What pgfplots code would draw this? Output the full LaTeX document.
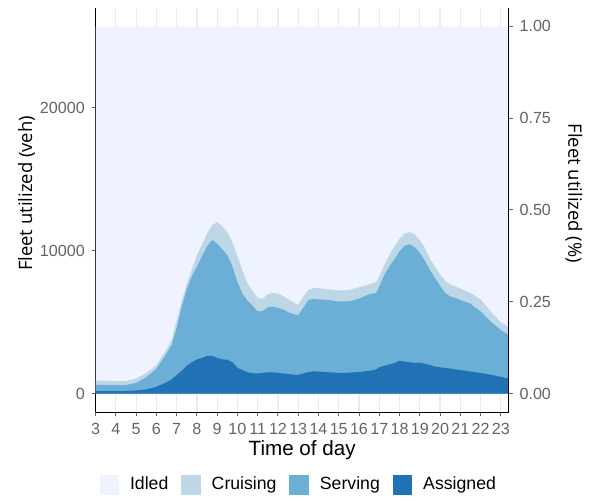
\documentclass[border=0pt]{standalone}
\usepackage{fontspec}
\setmainfont{Liberation Sans}
\newfontfamily\osans{Open Sans}
\usepackage{pgfplots}
\usepackage{pgfplotstable}
\pgfplotsset{compat=1.18}

\definecolor{idled}{HTML}{EFF3FF}
\definecolor{cruis}{HTML}{BDD7E7}
\definecolor{serv}{HTML}{6BAED6}
\definecolor{assig}{HTML}{2171B5}
\definecolor{tickgray}{HTML}{636363}
\definecolor{gridgray}{HTML}{EBEBEB}

% cumulative tops: A = assigned, S = +serving, C = +cruising, I = fleet (idled top)
\pgfplotstableread{
h     A     S      C      I
3.00  180   620    920    25700
3.50  180   610    900    25700
4.00  180   600    880    25700
4.50  190   610    890    25700
5.00  230   760    1050   25700
5.50  300   1150   1450   25700
6.00  480   1750   2000   25700
6.50  800   2800   3100   25700
6.75  1000  3400   3750   25700
7.00  1300  4600   5100   25700
7.25  1600  6100   6500   25700
7.50  1950  7300   7700   25700
7.75  2200  8200   8700   25700
8.00  2400  8900   9700   25700
8.25  2500  9600   10400  25700
8.50  2650  10300  11200  25700
8.75  2650  10750  11800  25700
9.00  2500  10500  12000  25700
9.25  2400  10100  11700  25700
9.50  2380  9700   11300  25700
9.75  2200  8900   10600  25700
10.00 1800  7800   9600   25700
10.25 1650  7000   8600   25700
10.50 1500  6500   7700   25700
10.75 1430  6150   7200   25700
11.00 1420  5750   6700   25700
11.25 1450  5800   6650   25700
11.50 1500  6050   6950   25700
11.75 1500  6100   7050   25700
12.00 1450  6000   7000   25700
12.25 1420  5900   6850   25700
12.50 1380  5700   6600   25700
12.75 1330  5580   6400   25700
13.00 1320  5490   6200   25700
13.25 1420  6000   6800   25700
13.50 1520  6550   7250   25700
13.75 1560  6620   7380   25700
14.00 1550  6600   7380   25700
14.50 1500  6550   7300   25700
15.00 1450  6450   7220   25700
15.50 1470  6450   7250   25700
16.00 1520  6650   7450   25700
16.50 1600  6950   7650   25700
16.85 1700  7050   7800   25700
17.00 1850  7500   8200   25700
17.25 1950  8300   9000   25700
17.50 2050  8900   9700   25700
17.75 2150  9400   10300  25700
18.00 2300  9950   10850  25700
18.25 2250  10350  11200  25700
18.50 2200  10450  11300  25700
18.75 2150  10250  11150  25700
19.00 2180  9850   10750  25700
19.25 2100  9300   10200  25700
19.50 2000  8650   9450   25700
19.75 1900  8100   8900   25700
20.00 1850  7550   8350   25700
20.25 1800  7050   7900   25700
20.50 1760  6800   7650   25700
20.75 1700  6700   7500   25700
21.00 1650  6550   7350   25700
21.50 1550  6300   7050   25700
22.00 1450  5750   6600   25700
22.50 1330  5050   5750   25700
23.00 1180  4450   5000   25700
23.39 1050  4100   4650   25700
}\fleet

\begin{document}
\begin{tikzpicture}
\path (-48.5bp,-40.5bp) rectangle (246bp,209bp);
\begin{axis}[
  at={(0,0)}, anchor=south west,
  scale only axis, width=209.5bp, height=205bp,
  xmin=3, xmax=23.39, ymin=-1285, ymax=26985,
  axis x line*=bottom, axis y line*=left,
  axis line style={line width=0.5bp, black, -},
  xtick={3,...,23}, ytick={0,10000,20000},
  tick align=outside, major tick length=2bp,
  tick style={tickgray, line width=0.5bp},
  xmajorgrids, major grid style={gridgray, line width=0.6bp},
  ticklabel style={font=\fontsize{8.2}{9}\selectfont, text=tickgray},
  /pgf/number format/assume math mode=true,
  /pgf/number format/set thousands separator={},
  scaled y ticks=false,
  xlabel={Time of day},
  xlabel style={font=\fontsize{10.5}{12}\selectfont, at={(axis description cs:0.5,-0.094)}, anchor=center},
  ylabel={Fleet utilized (veh)},
  ylabel style={font=\osans\fontsize{9.4}{11}\selectfont, at={(axis description cs:-0.167,0.541)}, anchor=center},
  legend style={at={(0.494,-0.180)}, anchor=center, draw=none, fill=none,
    legend columns=4, font=\fontsize{9}{10}\selectfont,
    /tikz/every odd column/.append style={column sep=3.5bp},
    /tikz/every even column/.append style={column sep=4.5bp}},
  legend image code/.code={\fill[#1] (0bp,-5bp) rectangle (10bp,5bp);},
]
\addplot[fill=idled, draw=none] table[x=h, y=I] {\fleet} \closedcycle;
\addlegendentry{Idled}
\addplot[fill=cruis, draw=none] table[x=h, y=C] {\fleet} \closedcycle;
\addlegendentry{Cruising}
\addplot[fill=serv, draw=none] table[x=h, y=S] {\fleet} \closedcycle;
\addlegendentry{Serving}
\addplot[fill=assig, draw=none] table[x=h, y=A] {\fleet} \closedcycle;
\addlegendentry{Assigned}
\draw[black, line width=0.5bp] (rel axis cs:0,0) -- (rel axis cs:0,1);
\end{axis}
\begin{axis}[
  at={(0,0)}, anchor=south west,
  scale only axis, width=209.5bp, height=205bp,
  xmin=3, xmax=23.39, ymin=-0.05, ymax=1.05,
  axis x line=none, axis y line*=right,
  axis line style={line width=0.5bp, black, -},
  ytick={0,0.25,0.5,0.75,1},
  tick align=outside, major tick length=2bp,
  tick style={tickgray, line width=0.5bp},
  ticklabel style={font=\fontsize{8.2}{9}\selectfont, text=tickgray},
  /pgf/number format/assume math mode=true,
  yticklabel style={/pgf/number format/.cd, fixed, fixed zerofill, precision=2},
  ylabel={Fleet utilized (\%)},
  ylabel style={font=\osans\fontsize{9.4}{11}\selectfont, at={(axis description cs:1.158,0.541)}, anchor=center, rotate=180},
]
\end{axis}
\end{tikzpicture}
\end{document}
